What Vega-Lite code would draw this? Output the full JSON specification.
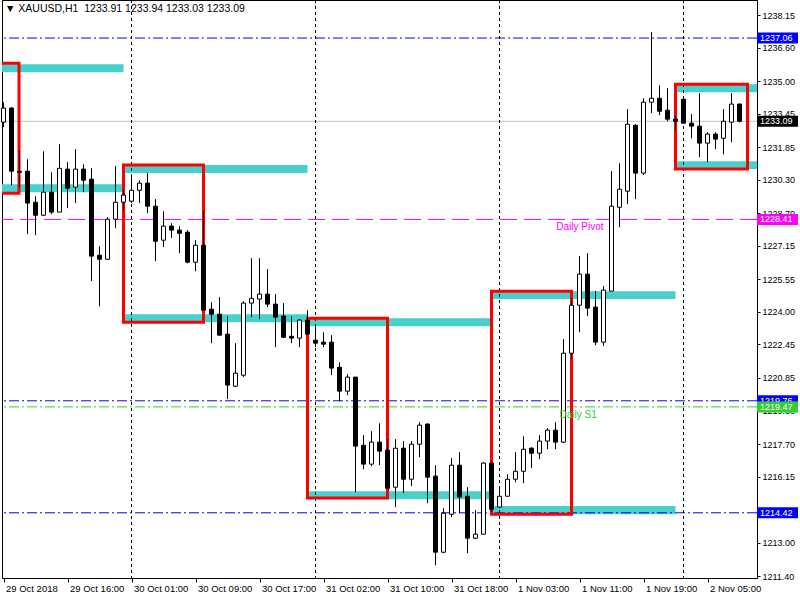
{
  "$schema": "https://vega.github.io/schema/vega-lite/v6.json",
  "width": 755,
  "height": 578,
  "autosize": {"type": "none"},
  "padding": {"left": 2, "top": 0, "right": 43, "bottom": 22},
  "background": "white",
  "config": {
    "view": {"stroke": "black", "strokeWidth": 1},
    "font": "Liberation Sans",
    "text": {"font": "Liberation Sans"},
    "axisX": {
      "title": null, "grid": false,
      "labelAlign": "left", "labelOffset": 2, "labelFlush": false, "labelOverlap": false,
      "labelFont": "Liberation Sans", "labelFontSize": 9.5, "labelColor": "black",
      "labelPadding": 1, "tickSize": 4, "tickColor": "black", "domainColor": "black"
    },
    "axisY": {
      "title": null, "grid": false,
      "format": ".2f", "labelFlush": false, "labelOverlap": false,
      "labelFont": "Liberation Sans", "labelFontSize": 9, "labelColor": "black",
      "labelPadding": 2, "tickSize": 3, "tickColor": "black", "domainColor": "black"
    }
  },
  "title": {
    "text": "▼ XAUUSD,H1\u00a0\u00a01233.91 1233.94 1233.03 1233.09",
    "anchor": "start",
    "frame": "group",
    "offset": -15,
    "dx": 3,
    "fontSize": 10.5,
    "fontWeight": "normal",
    "font": "Liberation Sans",
    "color": "black"
  },
  "resolve": {"scale": {"x": "shared", "y": "shared"}, "axis": {"x": "shared", "y": "shared"}},
  "datasets": {
    "candles": [
      {"i":0,"o":1233.05,"h":1234.00,"l":1232.81,"c":1233.72},
      {"i":1,"o":1233.72,"h":1233.76,"l":1230.04,"c":1230.71},
      {"i":2,"o":1230.71,"h":1231.71,"l":1229.95,"c":1230.66},
      {"i":3,"o":1230.71,"h":1231.28,"l":1227.71,"c":1229.19},
      {"i":4,"o":1229.23,"h":1229.52,"l":1227.66,"c":1228.61},
      {"i":5,"o":1228.61,"h":1231.66,"l":1228.57,"c":1229.71},
      {"i":6,"o":1229.71,"h":1230.66,"l":1228.66,"c":1228.76},
      {"i":7,"o":1228.76,"h":1232.00,"l":1228.76,"c":1230.85},
      {"i":8,"o":1230.81,"h":1231.14,"l":1228.95,"c":1229.90},
      {"i":9,"o":1229.95,"h":1231.76,"l":1229.19,"c":1230.81},
      {"i":10,"o":1230.81,"h":1231.04,"l":1229.71,"c":1230.28},
      {"i":11,"o":1230.33,"h":1230.85,"l":1225.47,"c":1226.66},
      {"i":12,"o":1226.70,"h":1227.13,"l":1224.27,"c":1226.51},
      {"i":13,"o":1226.51,"h":1228.52,"l":1226.47,"c":1228.42},
      {"i":14,"o":1228.42,"h":1230.95,"l":1227.99,"c":1229.23},
      {"i":15,"o":1229.23,"h":1229.85,"l":1228.80,"c":1229.57},
      {"i":16,"o":1229.28,"h":1230.42,"l":1229.19,"c":1229.80},
      {"i":17,"o":1229.80,"h":1230.28,"l":1229.19,"c":1230.14},
      {"i":18,"o":1230.14,"h":1230.62,"l":1228.71,"c":1229.04},
      {"i":19,"o":1229.04,"h":1229.38,"l":1226.42,"c":1227.37},
      {"i":20,"o":1227.42,"h":1228.80,"l":1227.09,"c":1228.09},
      {"i":21,"o":1228.09,"h":1228.23,"l":1227.52,"c":1227.90},
      {"i":22,"o":1227.90,"h":1228.09,"l":1226.80,"c":1227.75},
      {"i":23,"o":1227.80,"h":1227.90,"l":1226.32,"c":1226.37},
      {"i":24,"o":1226.37,"h":1227.42,"l":1225.94,"c":1227.18},
      {"i":25,"o":1227.18,"h":1228.80,"l":1224.08,"c":1224.08},
      {"i":26,"o":1224.13,"h":1224.46,"l":1222.51,"c":1223.89},
      {"i":27,"o":1223.89,"h":1224.70,"l":1222.89,"c":1222.89},
      {"i":28,"o":1222.94,"h":1223.80,"l":1219.84,"c":1220.51},
      {"i":29,"o":1220.46,"h":1222.51,"l":1220.41,"c":1221.08},
      {"i":30,"o":1220.98,"h":1224.51,"l":1220.89,"c":1224.42},
      {"i":31,"o":1224.42,"h":1226.56,"l":1223.75,"c":1224.65},
      {"i":32,"o":1224.61,"h":1226.56,"l":1223.65,"c":1224.85},
      {"i":33,"o":1224.85,"h":1226.04,"l":1224.23,"c":1224.37},
      {"i":34,"o":1224.37,"h":1224.85,"l":1222.32,"c":1223.75},
      {"i":35,"o":1223.80,"h":1224.42,"l":1222.75,"c":1222.79},
      {"i":36,"o":1222.84,"h":1223.80,"l":1222.51,"c":1222.75},
      {"i":37,"o":1222.75,"h":1223.65,"l":1222.32,"c":1223.61},
      {"i":38,"o":1223.61,"h":1224.08,"l":1222.94,"c":1222.94},
      {"i":39,"o":1222.65,"h":1223.27,"l":1222.32,"c":1222.51},
      {"i":40,"o":1222.56,"h":1223.03,"l":1222.32,"c":1222.46},
      {"i":41,"o":1222.56,"h":1222.89,"l":1220.98,"c":1221.32},
      {"i":42,"o":1221.36,"h":1221.60,"l":1219.74,"c":1220.22},
      {"i":43,"o":1220.22,"h":1221.03,"l":1220.03,"c":1220.89},
      {"i":44,"o":1220.89,"h":1220.89,"l":1215.40,"c":1217.60},
      {"i":45,"o":1217.64,"h":1218.12,"l":1216.50,"c":1216.74},
      {"i":46,"o":1216.74,"h":1218.31,"l":1216.64,"c":1217.79},
      {"i":47,"o":1217.79,"h":1218.69,"l":1216.69,"c":1217.36},
      {"i":48,"o":1217.41,"h":1217.93,"l":1215.59,"c":1215.59},
      {"i":49,"o":1215.64,"h":1217.93,"l":1214.69,"c":1217.50},
      {"i":50,"o":1217.50,"h":1217.84,"l":1215.36,"c":1216.02},
      {"i":51,"o":1216.02,"h":1217.84,"l":1215.69,"c":1217.69},
      {"i":52,"o":1217.69,"h":1218.74,"l":1217.07,"c":1218.60},
      {"i":53,"o":1218.65,"h":1218.69,"l":1214.88,"c":1216.12},
      {"i":54,"o":1216.17,"h":1216.69,"l":1211.92,"c":1212.54},
      {"i":55,"o":1212.54,"h":1214.64,"l":1212.49,"c":1214.40},
      {"i":56,"o":1214.35,"h":1217.03,"l":1214.21,"c":1216.69},
      {"i":57,"o":1216.69,"h":1217.31,"l":1214.40,"c":1215.17},
      {"i":58,"o":1215.21,"h":1215.64,"l":1212.49,"c":1213.21},
      {"i":59,"o":1213.21,"h":1214.55,"l":1213.16,"c":1213.40},
      {"i":60,"o":1213.40,"h":1216.83,"l":1213.40,"c":1216.79},
      {"i":61,"o":1216.79,"h":1216.83,"l":1214.45,"c":1214.59},
      {"i":62,"o":1214.69,"h":1215.55,"l":1214.64,"c":1215.21},
      {"i":63,"o":1215.21,"h":1216.26,"l":1215.21,"c":1216.02},
      {"i":64,"o":1216.02,"h":1217.31,"l":1215.88,"c":1216.40},
      {"i":65,"o":1216.40,"h":1218.07,"l":1215.83,"c":1217.45},
      {"i":66,"o":1217.50,"h":1217.55,"l":1216.55,"c":1217.26},
      {"i":67,"o":1217.26,"h":1218.12,"l":1216.98,"c":1217.84},
      {"i":68,"o":1217.84,"h":1218.46,"l":1217.45,"c":1218.36},
      {"i":69,"o":1218.36,"h":1218.74,"l":1217.45,"c":1217.79},
      {"i":70,"o":1217.79,"h":1222.70,"l":1217.74,"c":1222.03},
      {"i":71,"o":1222.03,"h":1224.65,"l":1221.75,"c":1224.32},
      {"i":72,"o":1224.32,"h":1226.66,"l":1223.03,"c":1225.80},
      {"i":73,"o":1225.80,"h":1226.80,"l":1223.80,"c":1224.18},
      {"i":74,"o":1224.23,"h":1224.99,"l":1222.41,"c":1222.56},
      {"i":75,"o":1222.56,"h":1225.23,"l":1222.37,"c":1225.04},
      {"i":76,"o":1224.99,"h":1230.71,"l":1224.99,"c":1229.04},
      {"i":77,"o":1228.99,"h":1231.09,"l":1228.04,"c":1229.85},
      {"i":78,"o":1229.76,"h":1233.67,"l":1229.14,"c":1232.95},
      {"i":79,"o":1232.90,"h":1232.95,"l":1229.38,"c":1230.62},
      {"i":80,"o":1230.62,"h":1234.19,"l":1230.52,"c":1234.00},
      {"i":81,"o":1234.00,"h":1237.34,"l":1233.48,"c":1234.19},
      {"i":82,"o":1234.19,"h":1234.81,"l":1233.38,"c":1233.57},
      {"i":83,"o":1233.62,"h":1234.67,"l":1233.09,"c":1233.19},
      {"i":84,"o":1233.19,"h":1233.38,"l":1232.62,"c":1233.09},
      {"i":85,"o":1234.14,"h":1234.19,"l":1233.00,"c":1233.00},
      {"i":86,"o":1233.00,"h":1233.43,"l":1232.28,"c":1232.86},
      {"i":87,"o":1232.86,"h":1234.43,"l":1231.38,"c":1232.05},
      {"i":88,"o":1232.05,"h":1232.57,"l":1231.14,"c":1232.48},
      {"i":89,"o":1232.48,"h":1232.57,"l":1231.76,"c":1232.24},
      {"i":90,"o":1232.28,"h":1233.67,"l":1231.52,"c":1233.09},
      {"i":91,"o":1233.05,"h":1234.43,"l":1232.09,"c":1233.91},
      {"i":92,"o":1233.91,"h":1233.94,"l":1233.03,"c":1233.09}
    ],
    "zones": [
      {"x0":-2,"x1":15,"y0":1235.81,"y1":1235.43},
      {"x0":-2,"x1":15,"y0":1230.09,"y1":1229.71},
      {"x0":15,"x1":38,"y0":1231.00,"y1":1230.62},
      {"x0":15,"x1":38,"y0":1223.89,"y1":1223.51},
      {"x0":38,"x1":61,"y0":1223.70,"y1":1223.32},
      {"x0":38,"x1":61,"y0":1215.45,"y1":1215.07},
      {"x0":61,"x1":84,"y0":1224.99,"y1":1224.61},
      {"x0":61,"x1":84,"y0":1214.74,"y1":1214.35},
      {"x0":84,"x1":96,"y0":1234.86,"y1":1234.48},
      {"x0":84,"x1":96,"y0":1231.19,"y1":1230.81}
    ],
    "boxes": [
      {"x0":-2,"x1":1.94,"y0":1235.86,"y1":1229.66},
      {"x0":15,"x1":25,"y0":1231.00,"y1":1223.51},
      {"x0":38,"x1":48,"y0":1223.70,"y1":1215.12},
      {"x0":61,"x1":71,"y0":1224.99,"y1":1214.35},
      {"x0":84,"x1":93,"y0":1234.86,"y1":1230.81}
    ],
    "seps": [{"i":16},{"i":39},{"i":62},{"i":85}],
    "levels": [
      {"p":1237.06,"kind":"level"},
      {"p":1233.09,"kind":"bid"},
      {"p":1228.41,"kind":"pivot"},
      {"p":1219.76,"kind":"level"},
      {"p":1219.47,"kind":"s1"},
      {"p":1214.42,"kind":"level"}
    ],
    "notes": [
      {"label":"Daily Pivot","p":1228.41,"at":69.1,"kind":"pivot"},
      {"label":"Daily S1","p":1219.47,"at":69.5,"kind":"s1"}
    ]
  },
  "layer": [
    {
      "data": {"name": "zones"},
      "mark": {"type": "rect", "fill": "#48D1CC", "clip": true},
      "encoding": {
        "x": {"field": "x0", "type": "quantitative", "scale": {"domain": [-0.1875, 94.1875], "nice": false, "zero": false, "padding": 0}},
        "x2": {"field": "x1"},
        "y": {"field": "y0", "type": "quantitative", "scale": {"domain": [1211.31, 1238.874], "nice": false, "zero": false, "padding": 0}, "axis": {"orient": "right"}},
        "y2": {"field": "y1"}
      }
    },
    {
      "data": {"name": "levels"},
      "mark": {"type": "rule", "strokeWidth": 1},
      "encoding": {
        "y": {"field": "p", "type": "quantitative", "scale": {"domain": [1211.31, 1238.874], "nice": false, "zero": false, "padding": 0}, "axis": {"orient": "right"}},
        "stroke": {"field": "kind", "type": "nominal", "scale": {"domain": ["level", "bid", "pivot", "s1"], "range": ["#0000FF", "#C0C0C0", "#FF00FF", "#32CD32"]}, "legend": null},
        "strokeDash": {"field": "kind", "type": "nominal", "scale": {"domain": ["level", "bid", "pivot", "s1"], "range": [[10, 3, 2, 3], [1, 0], [17, 7], [10, 3, 2, 3]]}, "legend": null}
      }
    },
    {
      "data": {"name": "seps"},
      "mark": {"type": "rule", "stroke": "black", "strokeWidth": 1, "strokeDash": [3, 3]},
      "encoding": {
        "x": {"field": "i", "type": "quantitative", "scale": {"domain": [-0.1875, 94.1875], "nice": false, "zero": false, "padding": 0}}
      }
    },
    {
      "data": {"name": "boxes"},
      "mark": {"type": "rect", "fill": "transparent", "stroke": "#FF0000", "strokeWidth": 3, "clip": true},
      "encoding": {
        "x": {"field": "x0", "type": "quantitative", "scale": {"domain": [-0.1875, 94.1875], "nice": false, "zero": false, "padding": 0}},
        "x2": {"field": "x1"},
        "y": {"field": "y0", "type": "quantitative", "scale": {"domain": [1211.31, 1238.874], "nice": false, "zero": false, "padding": 0}, "axis": {"orient": "right"}},
        "y2": {"field": "y1"}
      }
    },
    {
      "data": {"name": "candles"},
      "mark": {"type": "rule", "stroke": "black", "strokeWidth": 1},
      "encoding": {
        "x": {
          "field": "i", "type": "quantitative",
          "scale": {"domain": [-0.1875, 94.1875], "nice": false, "zero": false, "padding": 0},
          "axis": {
            "values": [0, 8, 16, 24, 32, 40, 48, 56, 64, 72, 80, 88],
            "tickCount": 100,
            "labelOverlap": false,
            "labelExpr": "['29 Oct 2018','29 Oct 16:00','30 Oct 01:00','30 Oct 09:00','30 Oct 17:00','31 Oct 02:00','31 Oct 10:00','31 Oct 18:00','1 Nov 03:00','1 Nov 11:00','1 Nov 19:00','2 Nov 05:00'][round(datum.value / 8)]"
          }
        },
        "y": {
          "field": "l", "type": "quantitative",
          "scale": {"domain": [1211.31, 1238.874], "nice": false, "zero": false, "padding": 0},
          "axis": {
            "orient": "right",
            "values": [1238.15, 1236.60, 1235.00, 1233.45, 1231.85, 1230.30, 1228.70, 1227.15, 1225.55, 1224.00, 1222.45, 1220.85, 1219.30, 1217.70, 1216.15, 1214.55, 1213.00, 1211.40],
            "tickCount": 100,
            "labelOverlap": false,
            "format": ".2f"
          }
        },
        "y2": {"field": "h"}
      }
    },
    {
      "data": {"name": "candles"},
      "mark": {"type": "bar", "size": 4, "stroke": "black", "strokeWidth": 1},
      "encoding": {
        "x": {"field": "i", "type": "quantitative", "scale": {"domain": [-0.1875, 94.1875], "nice": false, "zero": false, "padding": 0}},
        "y": {"field": "o", "type": "quantitative", "scale": {"domain": [1211.31, 1238.874], "nice": false, "zero": false, "padding": 0}, "axis": {"orient": "right"}},
        "y2": {"field": "c"},
        "fill": {"condition": {"test": "datum.c < datum.o", "value": "black"}, "value": "white"}
      }
    },
    {
      "data": {"name": "notes"},
      "mark": {"type": "text", "align": "left", "baseline": "top", "dy": 3, "fontSize": 10, "font": "Liberation Sans"},
      "encoding": {
        "x": {"field": "at", "type": "quantitative", "scale": {"domain": [-0.1875, 94.1875], "nice": false, "zero": false, "padding": 0}},
        "y": {"field": "p", "type": "quantitative", "scale": {"domain": [1211.31, 1238.874], "nice": false, "zero": false, "padding": 0}, "axis": {"orient": "right"}},
        "text": {"field": "label"},
        "fill": {"field": "kind", "type": "nominal", "scale": {"domain": ["level", "bid", "pivot", "s1"], "range": ["#0000FF", "#000000", "#FF00FF", "#32CD32"]}, "legend": null}
      }
    },
    {
      "data": {"name": "levels"},
      "transform": [{"filter": "datum.kind != 's1'"}],
      "mark": {"type": "tick", "orient": "horizontal", "size": 41, "thickness": 11, "opacity": 1},
      "encoding": {
        "x": {"datum": 96.75, "type": "quantitative", "scale": {"domain": [-0.1875, 94.1875], "nice": false, "zero": false, "padding": 0}},
        "y": {"field": "p", "type": "quantitative", "scale": {"domain": [1211.31, 1238.874], "nice": false, "zero": false, "padding": 0}, "axis": {"orient": "right"}},
        "fill": {"field": "kind", "type": "nominal", "scale": {"domain": ["level", "bid", "pivot", "s1"], "range": ["#0000FF", "#000000", "#FF00FF", "#32CD32"]}, "legend": null}
      }
    },
    {
      "data": {"name": "levels"},
      "transform": [{"filter": "datum.kind != 's1'"}],
      "mark": {"type": "text", "align": "left", "baseline": "middle", "dx": 3, "fontSize": 9, "font": "Liberation Sans", "fill": "white"},
      "encoding": {
        "x": {"datum": 94.1875, "type": "quantitative", "scale": {"domain": [-0.1875, 94.1875], "nice": false, "zero": false, "padding": 0}},
        "y": {"field": "p", "type": "quantitative", "scale": {"domain": [1211.31, 1238.874], "nice": false, "zero": false, "padding": 0}, "axis": {"orient": "right"}},
        "text": {"field": "p", "type": "quantitative", "format": ".2f"}
      }
    },
    {
      "data": {"name": "levels"},
      "transform": [{"filter": "datum.kind == 's1'"}],
      "mark": {"type": "tick", "orient": "horizontal", "size": 41, "thickness": 11, "opacity": 1},
      "encoding": {
        "x": {"datum": 96.75, "type": "quantitative", "scale": {"domain": [-0.1875, 94.1875], "nice": false, "zero": false, "padding": 0}},
        "y": {"field": "p", "type": "quantitative", "scale": {"domain": [1211.31, 1238.874], "nice": false, "zero": false, "padding": 0}, "axis": {"orient": "right"}},
        "fill": {"field": "kind", "type": "nominal", "scale": {"domain": ["level", "bid", "pivot", "s1"], "range": ["#0000FF", "#000000", "#FF00FF", "#32CD32"]}, "legend": null}
      }
    },
    {
      "data": {"name": "levels"},
      "transform": [{"filter": "datum.kind == 's1'"}],
      "mark": {"type": "text", "align": "left", "baseline": "middle", "dx": 3, "fontSize": 9, "font": "Liberation Sans", "fill": "white"},
      "encoding": {
        "x": {"datum": 94.1875, "type": "quantitative", "scale": {"domain": [-0.1875, 94.1875], "nice": false, "zero": false, "padding": 0}},
        "y": {"field": "p", "type": "quantitative", "scale": {"domain": [1211.31, 1238.874], "nice": false, "zero": false, "padding": 0}, "axis": {"orient": "right"}},
        "text": {"field": "p", "type": "quantitative", "format": ".2f"}
      }
    }
  ]
}
